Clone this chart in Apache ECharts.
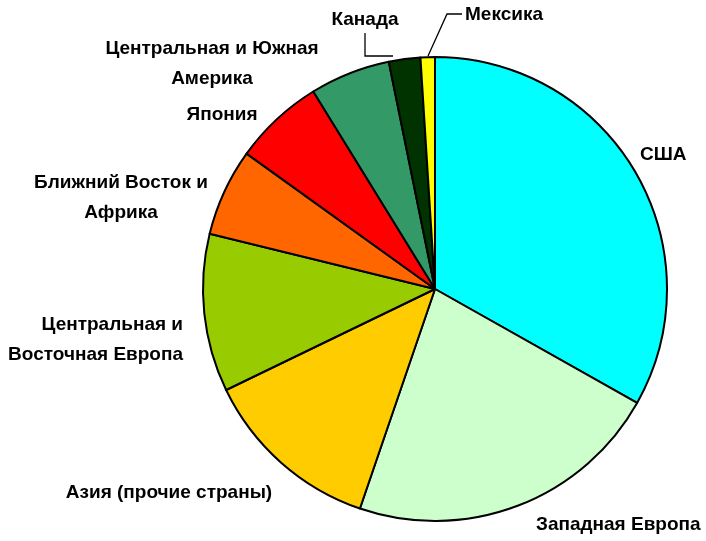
<!DOCTYPE html>
<html>
<head>
<meta charset="utf-8">
<script src="https://cdn.jsdelivr.net/npm/echarts@6/dist/echarts.min.js"></script>
<style>
html,body{margin:0;padding:0;background:#fff;}
#c{width:706px;height:541px;}
</style>
</head>
<body>
<div id="c"></div>
<script>
var categories = ['США', 'Западная Европа', 'Азия (прочие страны)', 'Центральная и\nВосточная Европа', 'Ближний Восток и\nАфрика', 'Япония', 'Центральная и Южная\nАмерика', 'Канада', 'Мексика'];
var shares = [33.2, 22.1, 12.6, 11.0, 6.1, 6.3, 5.6, 2.2, 1.0];
var colors = ['#00FFFF', '#CCFFCC', '#FFCC00', '#99CC00', '#FF6600', '#FF0000', '#339966', '#003300', '#FFFF00'];

// label placement (layout only)
var labelPos = [
  {x: 640, y: 155, align: 'left'},
  {x: 536, y: 525, align: 'left'},
  {x: 169, y: 493, align: 'center'},
  {x: 183, y: 340, align: 'right'},
  {x: 121, y: 198, align: 'center'},
  {x: 222, y: 115, align: 'center'},
  {x: 212, y: 64, align: 'center'},
  {x: 365, y: 20, align: 'center', line: [[393, 56], [365, 56], [365, 33]]},
  {x: 465, y: 15, align: 'left', line: [[428, 56], [447, 14], [462, 14]]}
];

var data = categories.map(function (n, i) {
  var d = {name: n, value: shares[i], itemStyle: {color: colors[i]}};
  if (labelPos[i].line) d.labelLine = {show: true};
  return d;
});

var chart = echarts.init(document.getElementById('c'));
chart.setOption({
  animation: false,
  series: [{
    type: 'pie',
    center: [435, 289],
    radius: 232,
    startAngle: 90,
    clockwise: true,
    data: data,
    itemStyle: {borderColor: '#000', borderWidth: 2},
    emphasis: {disabled: true},
    label: {
      show: true,
      position: 'outside',
      formatter: '{b}',
      color: '#000',
      fontFamily: 'Liberation Sans, Arial, sans-serif',
      fontWeight: 'bold',
      fontSize: 19,
      lineHeight: 30,
      overflow: 'none',
      width: 400
    },
    labelLine: {show: false, lineStyle: {color: '#000', width: 1.3}},
    labelLayout: function (p) {
      var lp = labelPos[p.dataIndex];
      var r = {x: lp.x, y: lp.y, align: lp.align, verticalAlign: 'middle'};
      if (lp.line) r.labelLinePoints = lp.line;
      return r;
    }
  }]
});
</script>
</body>
</html>
